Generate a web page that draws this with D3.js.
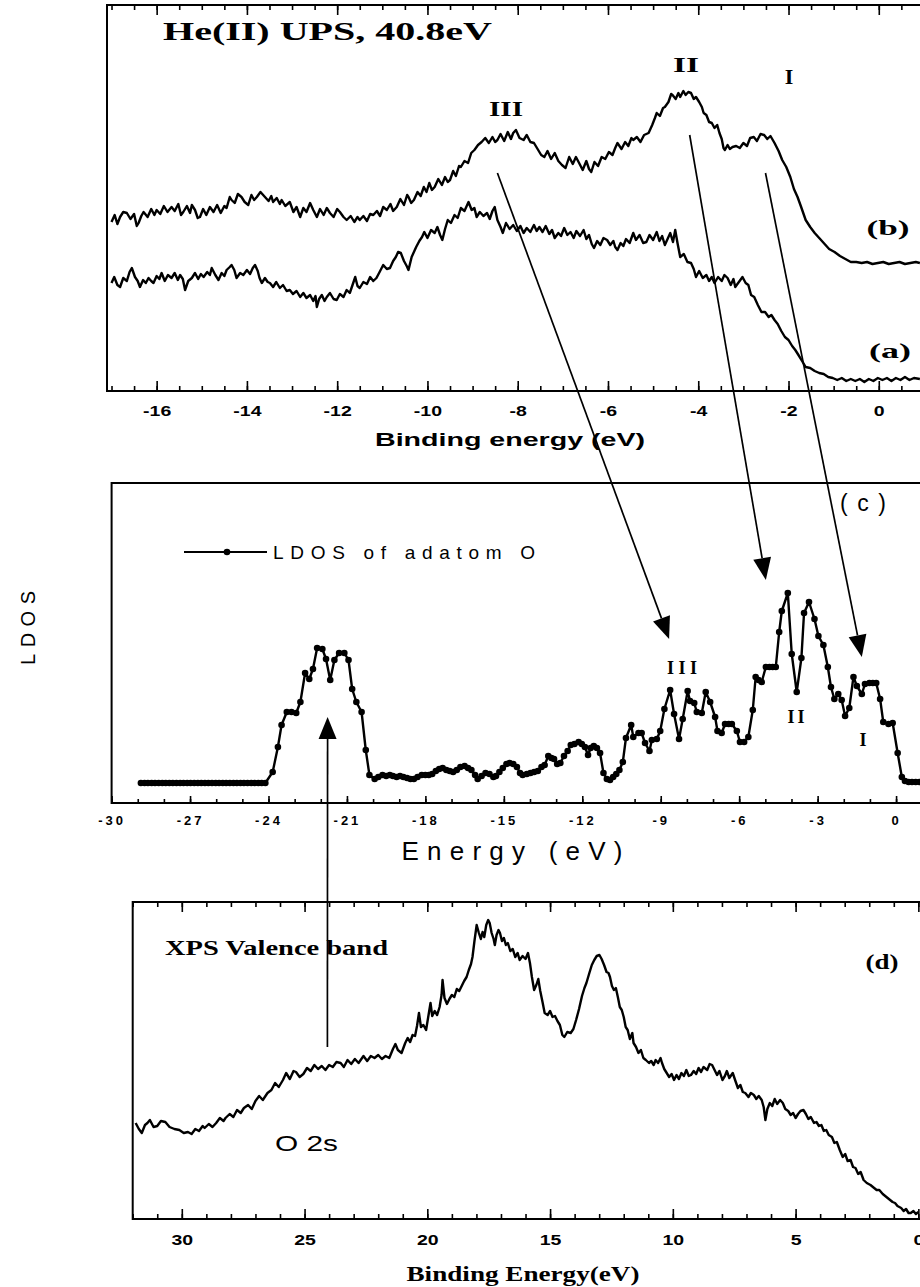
<!DOCTYPE html>
<html>
<head>
<meta charset="UTF-8">
<title>UPS / LDOS / XPS valence band</title>
<script src="https://d3js.org/d3.v7.min.js"></script>
<style>
body { margin: 0; background: #fff; }
.frame { stroke: #000; stroke-width: 2px; fill: none; }
.curve { fill: none; stroke: #000; stroke-width: 2.4px; stroke-linejoin: round; }
.tick line { stroke: #000; stroke-width: 1.6px; }
.serif { font-family: "Liberation Serif", "Times New Roman", serif; }
.sans { font-family: "Liberation Sans", Arial, sans-serif; }
</style>
</head>
<body>
<script>
// ---- data ----
// He(II) UPS, binding energy (eV) vs intensity (arb. units), spectrum (b)
var upsB = [[-17.0,16.9],[-16.93,17.6],[-16.87,16.7],[-16.81,17.4],[-16.74,17.9],[-16.66,17.8],[-16.58,17.2],
  [-16.5,17.7],[-16.44,16.5],[-16.4,16.8],[-16.34,17.5],[-16.29,17.9],[-16.2,17.4],[-16.12,18.2],[-16.05,17.6],
  [-16.0,18.1],[-15.92,17.7],[-15.84,18.5],[-15.76,17.9],[-15.67,18.4],[-15.6,18.0],[-15.52,18.7],[-15.46,17.6],
  [-15.41,17.9],[-15.33,18.5],[-15.26,17.8],[-15.22,18.6],[-15.15,18.1],[-15.09,17.3],[-15.04,17.4],[-14.97,18.2],
  [-14.9,17.6],[-14.82,18.4],[-14.74,17.9],[-14.66,18.6],[-14.58,17.8],[-14.5,18.5],[-14.45,18.3],[-14.38,19.4],
  [-14.34,19.1],[-14.27,18.8],[-14.2,19.7],[-14.12,19.4],[-14.05,18.9],[-13.97,18.6],[-13.9,19.6],[-13.84,19.1],
  [-13.78,19.4],[-13.7,19.9],[-13.6,19.4],[-13.52,19.0],[-13.46,19.5],[-13.42,18.9],[-13.34,19.3],[-13.27,18.7],
  [-13.23,19.1],[-13.15,18.5],[-13.05,18.9],[-12.97,17.9],[-12.9,18.4],[-12.82,17.4],[-12.75,18.3],[-12.68,17.9],
  [-12.6,18.8],[-12.53,18.1],[-12.45,17.4],[-12.38,18.2],[-12.3,17.6],[-12.23,18.3],[-12.16,17.8],[-12.08,17.4],
  [-12.0,18.2],[-11.94,17.9],[-11.86,17.4],[-11.79,17.1],[-11.7,17.5],[-11.62,16.9],[-11.55,17.4],[-11.5,17.1],
  [-11.42,17.5],[-11.34,17.0],[-11.27,17.7],[-11.2,17.6],[-11.12,18.0],[-11.05,17.5],[-10.98,18.4],[-10.9,18.1],
  [-10.82,18.7],[-10.76,18.0],[-10.68,18.4],[-10.6,19.2],[-10.52,18.6],[-10.45,19.6],[-10.42,19.4],[-10.36,18.8],
  [-10.3,19.1],[-10.22,19.9],[-10.15,19.5],[-10.08,20.4],[-10.02,19.9],[-9.96,20.8],[-9.9,20.1],[-9.84,20.4],
  [-9.76,21.2],[-9.68,20.6],[-9.61,21.4],[-9.55,20.9],[-9.5,21.1],[-9.43,22.0],[-9.37,21.5],[-9.3,22.5],
  [-9.26,22.4],[-9.18,23.0],[-9.1,22.8],[-9.03,23.8],[-8.96,24.1],[-8.88,24.6],[-8.8,24.9],[-8.72,25.3],
  [-8.64,24.8],[-8.56,25.4],[-8.5,24.9],[-8.45,25.1],[-8.38,25.7],[-8.3,25.0],[-8.22,25.9],[-8.15,25.2],
  [-8.1,25.8],[-8.04,26.1],[-7.96,25.3],[-7.87,25.1],[-7.8,25.6],[-7.72,24.9],[-7.64,24.8],[-7.56,24.2],
  [-7.48,23.6],[-7.41,23.4],[-7.34,24.0],[-7.26,23.2],[-7.18,23.8],[-7.1,23.0],[-7.02,22.6],[-6.94,22.3],
  [-6.86,23.4],[-6.78,22.7],[-6.71,23.4],[-6.64,22.8],[-6.56,22.1],[-6.48,23.0],[-6.42,22.2],[-6.37,21.9],
  [-6.3,22.9],[-6.22,22.5],[-6.14,23.4],[-6.06,23.2],[-5.98,23.9],[-5.9,23.6],[-5.84,24.3],[-5.79,24.8],
  [-5.7,24.2],[-5.62,24.9],[-5.55,24.5],[-5.48,25.3],[-5.44,25.1],[-5.36,25.4],[-5.28,24.9],[-5.2,25.6],
  [-5.1,25.8],[-5.02,26.6],[-4.96,27.3],[-4.92,27.8],[-4.85,27.5],[-4.78,28.3],[-4.74,28.4],[-4.66,28.9],
  [-4.6,29.7],[-4.57,29.6],[-4.5,29.2],[-4.44,29.8],[-4.4,29.4],[-4.33,30.0],[-4.28,29.6],[-4.22,29.9],
  [-4.16,29.8],[-4.1,29.2],[-4.05,29.4],[-3.98,28.9],[-3.92,28.4],[-3.88,27.8],[-3.82,27.6],[-3.76,26.9],
  [-3.7,26.8],[-3.64,26.3],[-3.58,26.6],[-3.53,25.8],[-3.48,25.2],[-3.44,24.3],[-3.41,24.1],[-3.35,24.6],
  [-3.3,24.2],[-3.24,24.4],[-3.16,24.5],[-3.08,24.3],[-3.0,24.8],[-2.92,24.5],[-2.85,25.3],[-2.77,25.4],
  [-2.7,25.0],[-2.62,25.7],[-2.54,25.6],[-2.47,25.2],[-2.4,25.5],[-2.31,24.8],[-2.22,24.0],[-2.14,23.1],
  [-2.05,22.4],[-1.96,21.4],[-1.88,20.2],[-1.8,19.4],[-1.72,18.4],[-1.62,17.1],[-1.52,16.4],[-1.42,15.8],
  [-1.32,15.3],[-1.22,14.8],[-1.1,14.2],[-0.98,13.9],[-0.86,13.5],[-0.74,13.2],[-0.62,12.9],[-0.5,12.9],
  [-0.38,12.8],[-0.26,12.9],[-0.14,12.7],[-0.02,12.8],[0.1,12.9],[0.22,12.7],[0.34,12.8],[0.46,12.9],
  [0.58,12.7],[0.7,12.8],[0.82,12.9],[0.91,12.8]];
// spectrum (a)
var upsA = [[-17.0,10.8],[-16.94,11.4],[-16.87,10.6],[-16.81,10.4],[-16.74,11.3],[-16.66,11.0],[-16.6,11.9],
  [-16.55,12.3],[-16.48,11.4],[-16.42,11.0],[-16.37,10.4],[-16.3,11.1],[-16.24,10.8],[-16.18,11.3],[-16.12,11.0],
  [-16.07,10.8],[-16.0,11.5],[-15.94,11.2],[-15.89,11.8],[-15.82,11.0],[-15.75,11.6],[-15.67,11.3],[-15.6,11.8],
  [-15.53,11.1],[-15.48,11.6],[-15.42,11.2],[-15.37,10.1],[-15.3,11.0],[-15.22,11.3],[-15.15,11.8],[-15.08,11.2],
  [-15.02,11.7],[-14.96,11.4],[-14.88,11.9],[-14.82,11.6],[-14.78,12.3],[-14.7,11.6],[-14.63,11.1],[-14.56,11.8],
  [-14.5,11.5],[-14.45,12.1],[-14.38,12.4],[-14.34,12.6],[-14.28,12.1],[-14.23,11.3],[-14.15,11.8],[-14.08,11.6],
  [-14.0,12.1],[-13.93,11.7],[-13.87,12.3],[-13.82,12.6],[-13.76,12.0],[-13.72,11.3],[-13.67,10.8],[-13.6,11.3],
  [-13.54,10.9],[-13.49,10.8],[-13.42,10.4],[-13.35,10.9],[-13.27,10.3],[-13.2,10.6],[-13.12,10.0],[-13.05,10.1],
  [-12.98,9.7],[-12.9,10.0],[-12.82,9.4],[-12.75,9.8],[-12.68,9.3],[-12.6,9.6],[-12.53,9.0],[-12.48,9.5],
  [-12.45,8.4],[-12.4,9.2],[-12.34,9.6],[-12.28,9.0],[-12.23,9.4],[-12.16,9.8],[-12.08,9.2],[-12.01,9.1],
  [-11.94,9.7],[-11.86,9.4],[-11.79,10.1],[-11.72,9.8],[-11.66,10.6],[-11.6,11.4],[-11.55,10.5],[-11.5,10.3],
  [-11.42,10.9],[-11.34,10.7],[-11.27,11.4],[-11.2,11.0],[-11.13,11.3],[-11.06,11.9],[-10.98,12.6],[-10.9,12.2],
  [-10.83,12.3],[-10.76,13.0],[-10.7,13.4],[-10.65,13.9],[-10.59,13.8],[-10.52,13.0],[-10.46,12.5],[-10.42,12.1],
  [-10.35,13.4],[-10.29,14.0],[-10.25,14.4],[-10.18,15.0],[-10.12,15.4],[-10.07,15.9],[-10.0,15.3],[-9.92,16.1],
  [-9.84,15.8],[-9.78,16.4],[-9.72,15.6],[-9.67,15.1],[-9.61,16.2],[-9.55,17.1],[-9.48,16.8],[-9.4,17.6],
  [-9.33,17.3],[-9.26,18.3],[-9.18,18.0],[-9.12,18.6],[-9.09,18.9],[-9.02,18.1],[-8.96,18.3],[-8.91,17.4],
  [-8.84,17.9],[-8.76,17.5],[-8.68,17.8],[-8.62,17.2],[-8.56,18.0],[-8.51,18.4],[-8.45,17.1],[-8.38,16.4],
  [-8.33,15.8],[-8.26,16.8],[-8.18,16.2],[-8.1,16.6],[-8.02,16.0],[-7.94,16.5],[-7.87,15.8],[-7.8,16.3],
  [-7.72,15.9],[-7.64,16.6],[-7.58,16.0],[-7.52,16.4],[-7.45,15.9],[-7.38,16.5],[-7.3,15.7],[-7.24,16.1],
  [-7.18,15.3],[-7.1,15.8],[-7.04,15.5],[-6.97,16.3],[-6.9,15.6],[-6.83,15.9],[-6.76,15.3],[-6.7,16.0],
  [-6.62,15.5],[-6.54,16.1],[-6.48,15.2],[-6.42,15.6],[-6.36,14.7],[-6.31,14.3],[-6.24,15.0],[-6.17,14.6],
  [-6.1,15.3],[-6.02,15.1],[-5.95,14.6],[-5.88,15.0],[-5.84,14.4],[-5.79,14.1],[-5.72,14.8],[-5.66,14.5],
  [-5.6,15.2],[-5.52,14.8],[-5.44,15.8],[-5.38,15.1],[-5.3,15.6],[-5.22,14.8],[-5.15,14.9],[-5.08,15.6],
  [-5.0,15.1],[-4.92,15.9],[-4.86,15.0],[-4.8,15.5],[-4.74,14.6],[-4.68,15.2],[-4.62,15.8],[-4.56,14.9],
  [-4.51,16.1],[-4.46,14.8],[-4.4,13.4],[-4.32,13.7],[-4.24,12.9],[-4.16,12.8],[-4.1,12.2],[-4.05,11.4],
  [-3.98,12.0],[-3.9,11.3],[-3.82,11.6],[-3.76,11.0],[-3.7,11.4],[-3.64,10.8],[-3.56,11.4],[-3.48,11.0],
  [-3.42,11.6],[-3.35,11.3],[-3.28,10.6],[-3.22,11.2],[-3.18,10.4],[-3.1,10.9],[-3.02,11.4],[-2.95,10.8],
  [-2.89,10.6],[-2.83,9.6],[-2.76,9.4],[-2.68,8.6],[-2.6,7.9],[-2.52,7.9],[-2.44,7.4],[-2.38,7.6],
  [-2.31,7.1],[-2.24,6.7],[-2.16,6.0],[-2.08,5.4],[-2.0,5.1],[-1.92,4.5],[-1.85,4.1],[-1.78,3.6],
  [-1.7,3.0],[-1.62,2.4],[-1.52,2.3],[-1.42,2.0],[-1.32,1.8],[-1.22,1.7],[-1.12,1.4],[-1.02,1.3],
  [-0.92,1.1],[-0.82,1.3],[-0.72,1.0],[-0.62,1.2],[-0.52,1.0],[-0.42,1.2],[-0.32,0.9],[-0.22,1.2],
  [-0.12,1.0],[-0.02,1.3],[0.08,1.1],[0.18,1.3],[0.28,1.0],[0.38,1.3],[0.48,1.1],[0.58,1.4],
  [0.68,1.1],[0.78,1.3],[0.91,1.2]];
var upsTicks = [-16, -14, -12, -10, -8, -6, -4, -2, 0];

// LDOS of adatom O, energy (eV) vs LDOS (arb. units)
var ldos = [[-28.88,2],[-28.74,2],[-28.61,2],[-28.47,2],[-28.34,2],[-28.2,2],[-28.06,2],[-27.93,2],[-27.79,2],
  [-27.66,2],[-27.52,2],[-27.38,2],[-27.25,2],[-27.11,2],[-26.98,2],[-26.84,2],[-26.7,2],[-26.57,2],[-26.43,2],
  [-26.3,2],[-26.16,2],[-26.02,2],[-25.89,2],[-25.75,2],[-25.62,2],[-25.48,2],[-25.34,2],[-25.21,2],[-25.07,2],
  [-24.94,2],[-24.8,2],[-24.66,2],[-24.53,2],[-24.39,2],[-24.26,2],[-24.12,2],
  [-23.84,3.1],[-23.64,5.6],[-23.5,7.8],[-23.3,9.1],[-23.12,9.1],[-22.94,9.0],[-22.78,10.1],[-22.6,13.0],
  [-22.44,12.4],[-22.3,13.4],[-22.14,15.5],[-21.94,15.4],[-21.8,14.4],[-21.64,12.3],[-21.48,14.3],[-21.3,15.0],
  [-21.1,15.0],[-20.94,14.3],[-20.8,11.4],[-20.64,10.1],[-20.44,9.1],[-20.28,5.3],[-20.14,2.8],[-19.94,2.4],
  [-19.8,2.6],[-19.64,2.8],[-19.5,2.7],[-19.36,2.8],[-19.24,2.7],[-19.1,2.6],[-18.97,2.7],[-18.84,2.6],
  [-18.7,2.5],[-18.57,2.4],[-18.44,2.4],[-18.3,2.6],[-18.14,2.8],[-18.0,2.8],[-17.87,2.8],[-17.74,2.9],
  [-17.6,3.2],[-17.47,3.4],[-17.34,3.5],[-17.2,3.3],[-17.07,3.2],[-16.94,3.1],[-16.8,3.3],[-16.66,3.6],
  [-16.5,3.7],[-16.37,3.5],[-16.24,3.3],[-16.1,2.8],[-16.0,2.4],[-15.85,2.7],[-15.7,3.0],[-15.55,2.9],
  [-15.4,2.6],[-15.3,2.7],[-15.17,3.1],[-15.04,3.5],[-14.9,3.9],[-14.78,4.0],[-14.64,3.9],[-14.5,3.6],
  [-14.38,3.0],[-14.28,2.8],[-14.12,2.9],[-13.98,3.0],[-13.84,3.1],[-13.7,3.2],[-13.56,3.6],[-13.44,3.8],
  [-13.3,4.7],[-13.18,4.5],[-13.08,4.4],[-12.96,3.9],[-12.84,4.0],[-12.7,4.7],[-12.56,5.2],[-12.44,5.8],
  [-12.3,5.9],[-12.14,6.1],[-12.02,5.9],[-11.9,5.6],[-11.78,4.8],[-11.68,5.5],[-11.56,5.7],[-11.44,5.5],
  [-11.32,5.0],[-11.19,3.0],[-11.06,2.4],[-10.94,2.3],[-10.82,2.6],[-10.7,2.9],[-10.58,3.3],[-10.45,4.1],
  [-10.33,6.5],[-10.13,7.8],[-10.05,6.6],[-9.85,7.0],[-9.73,7.0],[-9.6,6.0],[-9.43,5.2],[-9.34,6.3],
  [-9.15,6.4],[-9.02,7.2],[-8.86,9.4],[-8.64,11.3],[-8.49,8.9],[-8.3,6.4],[-8.16,8.4],[-7.97,11.2],
  [-7.88,10.2],[-7.72,10.0],[-7.62,9.1],[-7.43,9.0],[-7.28,11.1],[-7.11,10.1],[-6.92,8.6],[-6.83,7.2],
  [-6.67,7.0],[-6.54,7.9],[-6.4,7.9],[-6.28,7.9],[-6.09,7.2],[-5.97,6.1],[-5.81,6.1],[-5.65,6.6],
  [-5.48,9.3],[-5.37,12.6],[-5.26,12.3],[-5.14,12.1],[-4.98,13.6],[-4.84,13.6],[-4.72,13.6],[-4.6,13.6],
  [-4.47,17.1],[-4.37,19.2],[-4.14,21.0],[-3.99,14.9],[-3.8,11.1],[-3.62,14.5],[-3.52,19.0],[-3.33,20.1],
  [-3.12,18.4],[-2.97,16.7],[-2.78,15.8],[-2.61,13.6],[-2.49,11.6],[-2.36,10.4],[-2.21,10.9],[-2.08,10.3],
  [-1.95,8.7],[-1.79,9.5],[-1.63,12.6],[-1.5,11.7],[-1.31,10.9],[-1.19,11.9],[-1.02,12.0],[-0.89,12.0],
  [-0.76,12.0],[-0.61,10.4],[-0.49,8.1],[-0.29,7.9],[-0.13,8.0],[0.06,5.0],[0.22,2.6],[0.34,2.2],
  [0.48,2.1],[0.61,2.1],[0.75,2.1],[0.89,2.1]];
var ldosTicks = [-30, -27, -24, -21, -18, -15, -12, -9, -6, -3, 0];

// XPS valence band, binding energy (eV) vs intensity (arb. units)
var xps = [[31.88,9.6],[31.75,9.0],[31.63,8.6],[31.5,9.4],[31.4,9.6],[31.3,9.9],[31.15,9.2],[31.0,9.3],
  [30.85,9.8],[30.67,9.7],[30.5,9.2],[30.3,9.0],[30.1,8.9],[29.92,8.6],[29.75,8.7],[29.6,8.5],[29.45,9.0],
  [29.3,8.8],[29.15,9.3],[29.07,9.1],[28.9,9.5],[28.75,9.2],[28.6,9.6],[28.45,10.1],[28.3,9.8],[28.22,10.1],
  [28.05,10.5],[27.9,10.2],[27.75,10.9],[27.6,10.6],[27.47,11.1],[27.3,11.4],[27.15,11.0],[27.0,11.8],
  [26.85,12.3],[26.7,11.9],[26.51,12.6],[26.35,12.9],[26.2,13.6],[26.05,13.2],[25.88,13.9],[25.75,14.6],
  [25.6,14.0],[25.45,14.8],[25.35,14.7],[25.2,14.2],[25.05,14.5],[24.9,15.1],[24.75,14.8],[24.6,15.4],
  [24.45,15.0],[24.3,15.3],[24.15,14.9],[24.0,15.4],[23.85,15.2],[23.7,15.7],[23.53,15.6],[23.4,15.2],
  [23.25,15.9],[23.1,15.5],[22.95,16.0],[22.8,15.6],[22.6,16.3],[22.45,15.8],[22.3,16.3],[22.15,16.1],
  [22.0,16.4],[21.85,16.0],[21.7,16.3],[21.55,16.1],[21.4,17.0],[21.3,17.5],[21.2,16.9],[21.05,16.6],
  [20.9,17.6],[20.8,18.1],[20.7,17.7],[20.6,18.4],[20.5,18.3],[20.42,19.3],[20.34,20.6],[20.26,19.2],
  [20.16,19.4],[20.05,18.9],[19.95,20.4],[19.87,21.6],[19.8,20.3],[19.7,20.8],[19.6,20.4],[19.5,21.2],
  [19.42,22.4],[19.38,23.9],[19.3,22.1],[19.2,21.5],[19.1,22.0],[19.0,22.4],[18.9,22.2],[18.8,23.0],
  [18.7,22.8],[18.6,23.3],[18.5,23.8],[18.4,24.2],[18.31,24.9],[18.22,25.5],[18.16,26.2],[18.08,27.8],
  [17.99,29.4],[17.9,28.6],[17.82,28.0],[17.75,28.7],[17.68,28.2],[17.6,29.4],[17.52,29.9],[17.46,29.6],
  [17.38,28.6],[17.3,28.0],[17.25,27.4],[17.18,28.4],[17.1,28.9],[17.04,28.6],[16.96,27.8],[16.88,28.1],
  [16.8,27.4],[16.72,27.6],[16.62,26.8],[16.52,27.0],[16.42,26.2],[16.32,26.6],[16.24,25.9],[16.12,26.3],
  [16.0,26.0],[15.9,26.6],[15.82,25.6],[15.74,24.2],[15.65,22.9],[15.56,23.4],[15.48,24.0],[15.4,22.8],
  [15.3,21.6],[15.22,20.6],[15.1,20.4],[15.0,20.8],[14.9,20.2],[14.8,20.3],[14.7,19.8],[14.6,19.4],
  [14.5,18.4],[14.42,18.2],[14.3,18.7],[14.16,18.6],[14.05,19.0],[13.94,19.9],[13.82,21.0],[13.7,22.3],
  [13.6,23.1],[13.52,23.6],[13.4,24.6],[13.3,25.4],[13.2,25.9],[13.1,26.3],[12.99,26.4],[12.9,26.0],
  [12.8,25.4],[12.7,24.7],[12.62,24.6],[12.56,24.2],[12.48,23.3],[12.4,22.9],[12.32,23.1],[12.24,22.2],
  [12.16,21.2],[12.08,20.9],[12.0,20.2],[11.92,19.2],[11.84,18.9],[11.75,18.0],[11.65,18.6],[11.6,17.6],
  [11.5,17.2],[11.4,16.6],[11.3,16.9],[11.2,16.1],[11.1,15.9],[10.97,15.6],[10.88,15.8],[10.78,15.4],
  [10.7,15.9],[10.6,15.6],[10.5,16.1],[10.44,15.6],[10.35,15.0],[10.25,14.6],[10.15,14.2],[10.05,14.5],
  [9.95,13.9],[9.85,14.4],[9.75,14.0],[9.65,14.6],[9.55,14.3],[9.45,14.9],[9.35,14.3],[9.26,14.4],
  [9.15,14.8],[9.05,14.5],[8.95,15.1],[8.85,14.7],[8.75,15.2],[8.6,14.9],[8.5,15.5],[8.4,15.4],[8.3,14.9],
  [8.2,14.4],[8.1,14.8],[7.98,13.9],[7.88,14.3],[7.8,14.8],[7.7,14.1],[7.56,14.6],[7.45,13.8],[7.35,13.1],
  [7.25,13.4],[7.15,12.7],[7.05,12.6],[6.92,12.2],[6.82,12.6],[6.7,12.4],[6.6,12.0],[6.5,12.3],[6.38,11.9],
  [6.3,11.2],[6.23,9.9],[6.15,11.0],[6.05,11.6],[5.95,11.3],[5.85,12.0],[5.75,11.5],[5.63,11.9],[5.52,11.6],
  [5.42,11.0],[5.3,10.8],[5.2,10.4],[5.1,10.6],[5.0,10.1],[4.9,10.5],[4.8,10.8],[4.68,10.9],[4.58,10.5],
  [4.48,10.0],[4.38,10.2],[4.25,9.6],[4.15,9.7],[4.05,9.3],[3.95,9.4],[3.85,8.8],[3.75,8.9],[3.65,8.4],
  [3.52,8.2],[3.42,7.6],[3.32,7.7],[3.2,6.9],[3.08,6.2],[2.98,6.5],[2.88,5.8],[2.76,5.9],[2.66,5.2],
  [2.56,5.1],[2.45,4.5],[2.35,4.7],[2.23,3.9],[2.1,3.6],[1.95,3.4],[1.8,3.1],[1.7,2.9],[1.59,2.9],
  [1.45,2.5],[1.3,2.2],[1.15,1.9],[1.05,1.7],[0.95,1.6],[0.85,1.3],[0.7,1.1],[0.6,0.8],[0.5,1.0],
  [0.4,0.6],[0.31,0.6],[0.2,0.8],[0.1,0.5],[0.0,0.7]];
var xpsTicks = [30, 25, 20, 15, 10, 5, 0];

// arrows: start on the UPS panel (or XPS panel), tip on the LDOS panel
var arrowsTop = [{from: [-8.45, 21.8], to: [-8.68, 16.4]},
                 {from: [-4.19, 25.6], to: [-4.98, 22.3]},
                 {from: [-2.51, 21.8], to: [-1.31, 14.6]}];
var arrowO2s = {from: [24.07, 17.2], to: [-21.74, 8.6]};

// ---- drawing ----
var svg = d3.select("body").append("svg").attr("width", 920).attr("height", 1287);

var x1 = d3.scaleLinear().domain([-17.1, 1.6]).range([107, 951]);
var y1 = d3.scaleLinear().domain([0, 38.6]).range([391, 5]);
var xc = d3.scaleLinear().domain([-30, 1.5]).range([111.6, 935.3]);
var yc = d3.scaleLinear().domain([0, 32]).range([803, 483]);
var xd = d3.scaleLinear().domain([32, -1]).range([132.7, 942.9]);
var yd = d3.scaleLinear().domain([0, 31.7]).range([1219, 902]);

function frame(x, y) {
  var r = x.range(), b = y.range();
  svg.append("path").attr("class", "frame")
    .attr("d", "M" + r[1] + "," + b[1] + "H" + r[0] + "V" + b[0] + "H" + r[1]);
}

function ticks(x, yPos, values, size, top) {
  var ax = (top ? d3.axisTop(x) : d3.axisBottom(x)).tickValues(values).tickSize(-size).tickFormat("");
  svg.append("g").attr("transform", "translate(0," + yPos + ")").call(ax)
    .call(function(g) { g.select(".domain").remove(); });
}

function tickLabels(x, yPos, values, size, sx, spacing) {
  var g = svg.append("g").attr("transform", "translate(0," + yPos + ")")
    .call(d3.axisBottom(x).tickValues(values).tickSize(0).tickFormat(function(d) { return String(d); }));
  g.select(".domain").remove();
  g.selectAll("text").attr("class", "sans").attr("y", 0).attr("dy", 0)
    .attr("font-size", size).attr("font-weight", "bold").attr("fill", "#000")
    .attr("letter-spacing", spacing || 0)
    .attr("transform", "scale(" + sx + ",1)");
}

function label(x, y, str, o) {
  var t = svg.append("text").attr("class", o.cls)
    .attr("x", x).attr("y", y).attr("font-size", o.size)
    .attr("font-weight", o.weight || "normal").attr("text-anchor", o.anchor || "start").text(str);
  if (o.len) t.attr("textLength", o.len).attr("lengthAdjust", o.adjust || "spacingAndGlyphs");
  return t;
}

// panel (a)/(b): He(II) UPS
frame(x1, y1);
ticks(x1, 391, d3.range(-17, 1.6, 0.5), 5);
ticks(x1, 391, upsTicks, 10);
ticks(x1, 5, d3.range(-17, 1.6, 0.5), 5, true);
ticks(x1, 5, upsTicks, 10, true);
tickLabels(x1, 416, upsTicks, 15, 1.3, 0);

var line1 = d3.line().x(function(d) { return x1(d[0]); }).y(function(d) { return y1(d[1]); });
svg.append("path").datum(upsB).attr("class", "curve").attr("d", line1);
svg.append("path").datum(upsA).attr("class", "curve").attr("d", line1);

label(163, 40, "He(II) UPS, 40.8eV", {cls: "serif", size: 26, weight: "bold", len: 329});
label(506, 116, "III", {cls: "serif", size: 22, weight: "bold", anchor: "middle", len: 34});
label(686, 72, "II", {cls: "serif", size: 22, weight: "bold", anchor: "middle", len: 26});
label(789, 84, "I", {cls: "serif", size: 22, weight: "bold", anchor: "middle"});
label(888, 235, "(b)", {cls: "serif", size: 22, weight: "bold", anchor: "middle", len: 43});
label(890, 358, "(a)", {cls: "serif", size: 22, weight: "bold", anchor: "middle", len: 42});
label(510, 446, "Binding energy (eV)", {cls: "sans", size: 19, weight: "bold", anchor: "middle", len: 270});

// panel (c): LDOS
frame(xc, yc);
ticks(xc, 803, d3.range(-30, 1.5, 1), 4);
ticks(xc, 803, ldosTicks, 7);
tickLabels(xc, 825, ldosTicks, 13, 1, 3);

var linec = d3.line().x(function(d) { return xc(d[0]); }).y(function(d) { return yc(d[1]); });
svg.append("path").datum(ldos).attr("class", "curve").attr("stroke-width", 2).attr("d", linec);
svg.append("g").selectAll("circle").data(ldos).join("circle")
  .attr("cx", function(d) { return xc(d[0]); }).attr("cy", function(d) { return yc(d[1]); })
  .attr("r", 3.3).attr("fill", "#000");

svg.append("line").attr("x1", 184).attr("x2", 267).attr("y1", 552).attr("y2", 552)
  .attr("stroke", "#000").attr("stroke-width", 2);
svg.append("circle").attr("cx", 227).attr("cy", 552).attr("r", 3.3).attr("fill", "#000");
label(273, 559, "LDOS of adatom O", {cls: "sans", size: 19, len: 262, adjust: "spacing"});
label(863, 511, "(c)", {cls: "sans", size: 23, anchor: "middle", len: 46, adjust: "spacing"});
label(682, 674, "III", {cls: "serif", size: 18, weight: "bold", anchor: "middle", len: 30, adjust: "spacing"});
label(796, 723, "II", {cls: "serif", size: 18, weight: "bold", anchor: "middle", len: 17, adjust: "spacing"});
label(863, 746, "I", {cls: "serif", size: 18, weight: "bold", anchor: "middle"});
label(512, 860, "Energy (eV)", {cls: "sans", size: 26, anchor: "middle", len: 221, adjust: "spacing"});
label(0, 0, "LDOS", {cls: "sans", size: 20, anchor: "middle", len: 74, adjust: "spacing"})
  .attr("transform", "translate(35,628) rotate(-90)");

// panel (d): XPS
frame(xd, yd);
ticks(xd, 1219, d3.range(32, -1, -1), 5);
ticks(xd, 1219, xpsTicks, 10);
ticks(xd, 902, d3.range(32, -1, -1), 5, true);
ticks(xd, 902, xpsTicks, 10, true);
tickLabels(xd, 1245, xpsTicks, 15, 1.3, 0);

var lined = d3.line().x(function(d) { return xd(d[0]); }).y(function(d) { return yd(d[1]); });
svg.append("path").datum(xps).attr("class", "curve").attr("stroke-width", 2).attr("d", lined);

label(165, 955, "XPS Valence band", {cls: "serif", size: 22, weight: "bold", len: 223});
label(882, 969, "(d)", {cls: "serif", size: 22, weight: "bold", anchor: "middle", len: 33});
label(275, 1151, "O 2s", {cls: "sans", size: 22, len: 63});
label(523, 1281, "Binding Energy(eV)", {cls: "serif", size: 22, weight: "bold", anchor: "middle", len: 233});

// arrows
function arrow(p, q) {
  var dx = q[0] - p[0], dy = q[1] - p[1], L = Math.sqrt(dx * dx + dy * dy);
  var ux = dx / L, uy = dy / L, hl = 22, hw = 9;
  var bx = q[0] - ux * hl, by = q[1] - uy * hl;
  svg.append("line").attr("x1", p[0]).attr("y1", p[1]).attr("x2", bx).attr("y2", by)
    .attr("stroke", "#000").attr("stroke-width", 1.7);
  svg.append("path").attr("fill", "#000")
    .attr("d", "M" + q[0] + "," + q[1] + "L" + (bx - uy * hw) + "," + (by + ux * hw) +
      "L" + (bx + uy * hw) + "," + (by - ux * hw) + "Z");
}
arrowsTop.forEach(function(a) {
  arrow([x1(a.from[0]), y1(a.from[1])], [xc(a.to[0]), yc(a.to[1])]);
});
arrow([xd(arrowO2s.from[0]), yd(arrowO2s.from[1])], [xc(arrowO2s.to[0]), yc(arrowO2s.to[1])]);

svg.selectAll("text").attr("fill", "#000");
</script>
</body>
</html>
